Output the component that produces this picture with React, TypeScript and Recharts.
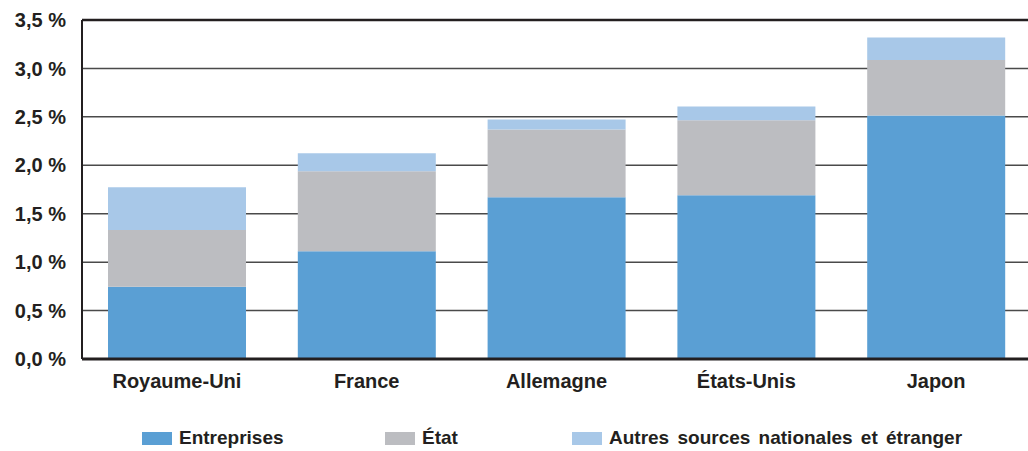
import React from "react";
import { BarChart, Bar, XAxis, YAxis, CartesianGrid, Legend, ReferenceLine } from "recharts";

const categories = ["Royaume-Uni", "France", "Allemagne", "États-Unis", "Japon"];
const entreprises = [0.745, 1.113, 1.67, 1.69, 2.515];
const etat = [0.588, 0.825, 0.70, 0.774, 0.571];
const autres = [0.44, 0.186, 0.103, 0.144, 0.234];
const yTicks = [0, 0.5, 1.0, 1.5, 2.0, 2.5, 3.0, 3.5];

const seriesNames = ["Entreprises", "État", "Autres sources nationales et étranger"];
const seriesColors = ["#5A9FD4", "#BCBDC1", "#A8C8E8"];

const data = categories.map((c, i) => ({
  name: c,
  entreprises: entreprises[i],
  etat: etat[i],
  autres: autres[i],
}));

const fmt = (v: number) => v.toFixed(1).replace(".", ",") + " %";

const FONT = "'Liberation Sans', Arial, sans-serif";
const TEXT = "#231f20";

const itemWidths = [243, 187, 420];

const renderLegend = () => (
  <div style={{ display: "flex", paddingLeft: 142, height: 24, alignItems: "center", fontFamily: FONT }}>
    {seriesNames.map((n, i) => (
      <div key={n} style={{ display: "flex", alignItems: "center", width: itemWidths[i] }}>
        <span style={{ display: "inline-block", width: 30, height: 13, background: seriesColors[i], marginRight: 7 }} />
        <span
          style={{
            fontSize: 19,
            fontWeight: 700,
            color: TEXT,
            whiteSpace: "nowrap",
            wordSpacing: 3,
          }}
        >
          {n}
        </span>
      </div>
    ))}
  </div>
);

export default function App() {
  return (
    <div style={{ position: "absolute", left: 0, top: 0, width: 1028, height: 451, background: "#fff", overflow: "hidden" }}>
      <BarChart
        width={1028}
        height={451}
        data={data}
        margin={{ top: 20, right: -3, bottom: 1, left: 0 }}
        barCategoryGap="13.7%"
      >
        <CartesianGrid horizontal vertical={false} stroke="#4a4a4a" strokeWidth={1.5} />
        <XAxis
          dataKey="name"
          height={67}
          tickLine={false}
          tickSize={0}
          tickMargin={15}
          axisLine={{ stroke: "#231f20", strokeWidth: 3 }}
          tick={{ fill: TEXT, fontSize: 20, fontWeight: 700, fontFamily: FONT }}
          interval={0}
        />
        <YAxis
          width={82}
          domain={[0, 3.5]}
          ticks={yTicks}
          tickFormatter={fmt}
          tickLine={false}
          tickSize={0}
          tickMargin={16}
          axisLine={{ stroke: "#231f20", strokeWidth: 2 }}
          tick={{ fill: TEXT, fontSize: 20, fontWeight: 700, fontFamily: FONT }}
          allowDataOverflow
        />
        <ReferenceLine y={3.5} stroke="#231f20" strokeWidth={2.5} />
        <Bar dataKey="entreprises" name={seriesNames[0]} stackId="a" fill={seriesColors[0]} isAnimationActive={false} />
        <Bar dataKey="etat" name={seriesNames[1]} stackId="a" fill={seriesColors[1]} isAnimationActive={false} />
        <Bar dataKey="autres" name={seriesNames[2]} stackId="a" fill={seriesColors[2]} isAnimationActive={false} />
        <Legend verticalAlign="bottom" align="left" content={renderLegend} />
      </BarChart>
    </div>
  );
}
